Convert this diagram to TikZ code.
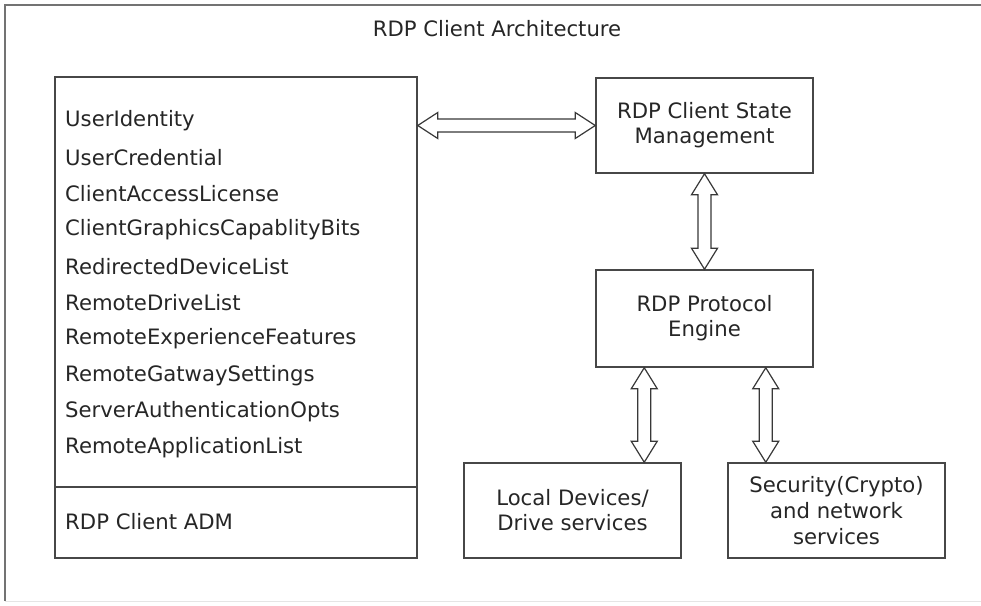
\documentclass[tikz,border=0pt]{standalone}
\usepackage{fontspec}
\setmainfont{DejaVu Sans}
\usetikzlibrary{calc}
\newcommand\dblarrowh[2]{%
  \draw[fatarrow] (#1) -- ($(#1)+(20,-13)$) -- ($(#1)+(20,-6.5)$) -- ($(#2)+(-20,-6.5)$) -- ($(#2)+(-20,-13)$) -- (#2)
    -- ($(#2)+(-20,13)$) -- ($(#2)+(-20,6.5)$) -- ($(#1)+(20,6.5)$) -- ($(#1)+(20,13)$) -- cycle;}
\newcommand\dblarrowv[2]{%
  \draw[fatarrow] (#1) -- ($(#1)+(-13,21)$) -- ($(#1)+(-6.5,21)$) -- ($(#2)+(-6.5,-21)$) -- ($(#2)+(-13,-21)$) -- (#2)
    -- ($(#2)+(13,-21)$) -- ($(#2)+(6.5,-21)$) -- ($(#1)+(6.5,21)$) -- ($(#1)+(13,21)$) -- cycle;}
\begin{document}
\begin{tikzpicture}[x=1pt,y=-1pt,
  box/.style={draw=black!72, line width=1.5pt, fill=white, inner sep=0pt, align=center,
    font=\fontsize{21.2}{25}\selectfont, text=black!85},
  lbl/.style={inner sep=0pt, anchor=west, font=\fontsize{21.2}{25}\selectfont, text=black!85},
  fatarrow/.style={draw=black!78, line width=1.2pt, fill=white, line join=miter}]
\useasboundingbox (0,0) rectangle (981,605);
\draw[black!55, line width=2pt] (981,5) -- (5,5) -- (5,601);
\draw[black!10, line width=1pt] (5,601) -- (981,601);
\node[lbl, anchor=center] (title) at (497,29) {RDP Client Architecture};
% left ADM box
\node[box, minimum width=362pt, minimum height=410pt] (admtop) at (236,282) {};
\node[box, minimum width=362pt, minimum height=71pt] (admbot) at (236,522.5) {};
\node[lbl] (adm) at (65,522) {RDP Client ADM};
\node[lbl] (i1) at (65,121) {UserIdentity};
\node[lbl] (i2) at (65,158) {UserCredential};
\node[lbl] (i3) at (65,194) {ClientAccessLicense};
\node[lbl] (i4) at (65,230) {ClientGraphicsCapablityBits};
\node[lbl] (i5) at (65,267) {RedirectedDeviceList};
\node[lbl] (i6) at (65,303) {RemoteDriveList};
\node[lbl] (i7) at (65,339) {RemoteExperienceFeatures};
\node[lbl] (i8) at (65,376) {RemoteGatwaySettings};
\node[lbl] (i9) at (65,412) {ServerAuthenticationOpts};
\node[lbl] (i10) at (65,448) {RemoteApplicationList};
% right boxes
\node[box, minimum width=217pt, minimum height=95pt] (sm) at (704.5,125.5) {RDP Client State\\Management};
\node[box, minimum width=217pt, minimum height=97pt] (pe) at (704.5,318.5) {RDP Protocol\\Engine};
\node[box, minimum width=217pt, minimum height=95pt] (ld) at (572.5,510.5) {Local Devices/\\Drive services};
\node[box, minimum width=217pt, minimum height=95pt, font=\fontsize{21.2}{26}\selectfont] (sec) at (836.5,510.5) {Security(Crypto)\\and network\\services};
% arrows
\coordinate (h1) at (admtop.east |- sm.west);
\dblarrowh{h1}{sm.west}
\dblarrowv{sm.south}{pe.north}
\coordinate (p1) at ([xshift=49pt]pe.south west);
\coordinate (q1) at (p1 |- ld.north);
\dblarrowv{p1}{q1}
\coordinate (p2) at ([xshift=-48pt]pe.south east);
\coordinate (q2) at (p2 |- sec.north);
\dblarrowv{p2}{q2}
\end{tikzpicture}
\end{document}
